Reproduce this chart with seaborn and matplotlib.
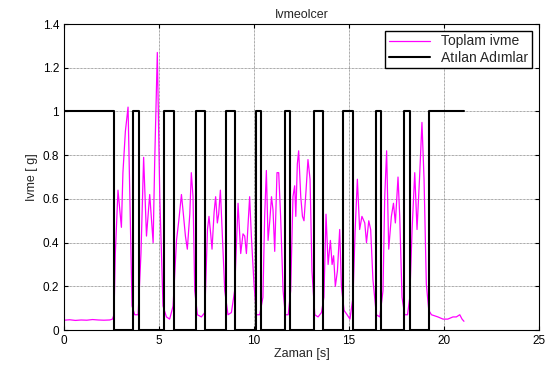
import matplotlib
matplotlib.use("Agg")
import matplotlib.pyplot as plt
import seaborn as sns
import pandas as pd

# toplam ivme (magenta) - time [s] and value [g]
t_acc = [0, 0.3, 0.6, 0.9, 1.2, 1.5, 1.8, 2.1, 2.4, 2.55, 2.63,
         2.70, 2.84, 3.02, 3.10, 3.23, 3.37, 3.58, 3.72, 3.90,
         4.05, 4.19, 4.34, 4.51, 4.69, 4.77, 4.91, 5.04, 5.21, 5.39, 5.56, 5.74,
         5.92, 6.04, 6.18, 6.26, 6.39, 6.49, 6.62, 6.70, 6.79, 6.88, 7.02, 7.23, 7.41,
         7.55, 7.63, 7.72, 7.79, 7.90, 7.98, 8.07, 8.14, 8.23, 8.32, 8.46, 8.63, 8.81,
         8.98, 9.16, 9.30, 9.42, 9.51, 9.60, 9.69, 9.77, 9.86, 10.00, 10.13, 10.30,
         10.47, 10.56, 10.65, 10.74, 10.83, 10.92, 11.00, 11.09, 11.21, 11.30, 11.40, 11.53, 11.65, 11.80,
         11.93, 12.05, 12.14, 12.20, 12.28, 12.35, 12.46, 12.55, 12.63, 12.74, 12.84, 12.95, 13.05, 13.20, 13.37, 13.55,
         13.68, 13.79, 13.90, 14.02, 14.11, 14.19, 14.28, 14.39, 14.51, 14.60, 14.74, 14.90, 15.05,
         15.21, 15.32, 15.44, 15.56, 15.68, 15.83, 15.92, 16.04, 16.14, 16.26, 16.44, 16.62,
         16.79, 16.88, 16.98, 17.09, 17.23, 17.34, 17.44, 17.58, 17.67, 17.79, 17.93, 18.08,
         18.20, 18.32, 18.46, 18.58, 18.71, 18.84, 18.95, 19.07, 19.20,
         19.34, 19.68, 19.95, 20.20, 20.47, 20.65, 20.83, 20.95, 21.05]
v_acc = [0.045, 0.047, 0.044, 0.046, 0.045, 0.048, 0.046, 0.045, 0.046, 0.05, 0.07,
         0.35, 0.64, 0.47, 0.72, 0.91, 1.02, 0.11, 0.07, 0.07,
         0.35, 0.79, 0.43, 0.62, 0.40, 0.76, 1.27, 0.61, 0.11, 0.06, 0.05, 0.11,
         0.41, 0.50, 0.62, 0.55, 0.43, 0.37, 0.53, 0.72, 0.61, 0.18, 0.07, 0.06, 0.08,
         0.46, 0.52, 0.44, 0.37, 0.54, 0.61, 0.49, 0.53, 0.64, 0.46, 0.18, 0.07, 0.08,
         0.18, 0.58, 0.35, 0.44, 0.43, 0.35, 0.49, 0.61, 0.43, 0.21, 0.07, 0.07,
         0.15, 0.52, 0.73, 0.41, 0.50, 0.61, 0.55, 0.36, 0.72, 0.72, 0.52, 0.18, 0.07, 0.07,
         0.18, 0.61, 0.66, 0.52, 0.76, 0.82, 0.61, 0.52, 0.50, 0.64, 0.78, 0.69, 0.27, 0.07, 0.06, 0.08,
         0.15, 0.53, 0.30, 0.41, 0.30, 0.34, 0.20, 0.27, 0.46, 0.20, 0.09, 0.07, 0.05,
         0.15, 0.45, 0.69, 0.46, 0.52, 0.49, 0.40, 0.50, 0.46, 0.23, 0.07, 0.06,
         0.18, 0.61, 0.82, 0.37, 0.52, 0.58, 0.49, 0.70, 0.52, 0.15, 0.07, 0.07,
         0.15, 0.46, 0.72, 0.46, 0.69, 0.95, 0.69, 0.21, 0.09,
         0.07, 0.06, 0.05, 0.05, 0.06, 0.06, 0.07, 0.05, 0.04]

# atilan adimlar (step signal) - switching times and levels
t_step = [0, 2.63, 3.63, 3.95, 5.25, 5.81, 6.93, 7.40, 8.55, 8.98, 10.09, 10.37,
          11.62, 11.92, 13.16, 13.63, 14.70, 15.21, 16.44, 16.70, 17.90, 18.19, 19.20, 21.05]
v_step = [1, 0, 1, 0, 1, 0, 1, 0, 1, 0, 1, 0,
          1, 0, 1, 0, 1, 0, 1, 0, 1, 0, 1, 1]

x_ticks = [0, 5, 10, 15, 20, 25]
y_ticks = [0, 0.2, 0.4, 0.6, 0.8, 1.0, 1.2, 1.4]
y_labels = ["0", "0.2", "0.4", "0.6", "0.8", "1", "1.2", "1.4"]

acc = pd.DataFrame({"t": t_acc, "v": v_acc})
steps = pd.DataFrame({"t": t_step, "v": v_step})

sns.set_style("white")
plt.rcParams['font.family'] = ['Liberation Sans', 'DejaVu Sans']

fig = plt.figure(figsize=(5.51, 3.70), dpi=100)
ax = fig.add_axes([0.1162, 0.108, 0.8620, 0.827])

sns.lineplot(data=acc, x="t", y="v", ax=ax, color="#ff00ff", lw=0.9,
             sort=False, estimator=None, label="Toplam ivme")
sns.lineplot(data=steps, x="t", y="v", ax=ax, color="black", lw=1.5,
             sort=False, estimator=None, drawstyle="steps-post", label="Atılan Adımlar")

ax.set_xlim(0, 25)
ax.set_ylim(0, 1.4)
ax.set_xticks(x_ticks)
ax.set_yticks(y_ticks)
ax.set_yticklabels(y_labels)
ax.tick_params(direction="in", length=3, labelsize=8.5, top=True, right=True,
               bottom=True, left=True, colors="black", width=0.8)
ax.grid(True, color="#555555", lw=0.5, linestyle=(0, (1, 1)))
for s in ax.spines.values():
    s.set_color("black")
    s.set_linewidth(0.8)

ax.set_title("Ivmeolcer", fontsize=9, pad=4)
ax.set_xlabel("Zaman [s]", fontsize=9, labelpad=1)
ax.set_ylabel("Ivme [ g]", fontsize=9, labelpad=3)

leg = ax.legend(loc="upper right", fontsize=10, frameon=True, fancybox=False,
                edgecolor="black", framealpha=1, handlelength=3.0,
                borderaxespad=0.5, borderpad=0.25, labelspacing=0.15)
leg.get_frame().set_linewidth(1.0)

fig.savefig("out.png", dpi=100)
